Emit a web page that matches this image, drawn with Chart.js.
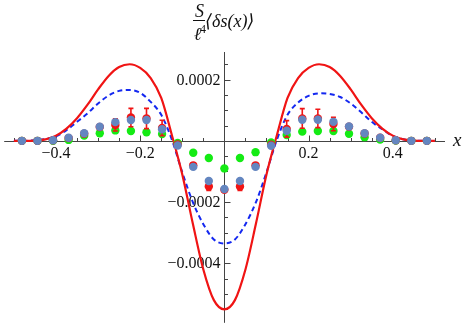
<!DOCTYPE html>
<html>
<head>
<meta charset="utf-8">
<script src="https://cdn.jsdelivr.net/npm/chart.js@4.4.0/dist/chart.umd.min.js"></script>
<style>
html, body { margin: 0; padding: 0; background: #fff; }
canvas { display: block; }
</style>
</head>
<body>
<canvas id="plot" width="463" height="327"></canvas>
<script>
// curves, sampled every 0.025
var curveX = [-0.5, -0.475, -0.45, -0.425, -0.4, -0.375, -0.35, -0.325, -0.3, -0.275, -0.25, -0.225, -0.2, -0.175, -0.15, -0.125, -0.1, -0.075, -0.05, -0.025, 0,
              0.025, 0.05, 0.075, 0.1, 0.125, 0.15, 0.175, 0.2, 0.225, 0.25, 0.275, 0.3, 0.325, 0.35, 0.375, 0.4, 0.425, 0.45, 0.475, 0.5];
var redCurve = [0, 0, 0.000001, 0.000005, 0.000017, 0.00004, 0.000074, 0.000118, 0.000168, 0.000212, 0.000241, 0.00025, 0.000238, 0.000205, 0.00014, 0.00002, -0.00011, -0.00027, -0.00042, -0.00052, -0.00055,
                -0.00052, -0.00042, -0.00027, -0.00011, 0.00002, 0.00014, 0.000205, 0.000238, 0.00025, 0.000241, 0.000212, 0.000168, 0.000118, 0.000074, 0.00004, 0.000017, 0.000005, 0.000001, 0, 0];
var blueCurve = [0, 0, 0.000002, 0.000006, 0.000015, 0.000035, 0.000062, 0.00009, 0.000122, 0.000148, 0.000163, 0.000166, 0.000157, 0.000127, 0.000085, 0.000005, -0.000103, -0.0002, -0.000272, -0.000322, -0.000335,
                 -0.000322, -0.000272, -0.0002, -0.000103, 0.000005, 0.000085, 0.000125, 0.000147, 0.000155, 0.000153, 0.000143, 0.000122, 0.000093, 0.000062, 0.000038, 0.000016, 0.000005, 0.000001, 0, 0];

// points
var pointX = [-0.481, -0.444, -0.407, -0.370, -0.333, -0.296, -0.259, -0.222, -0.185, -0.148, -0.111, -0.074, -0.037, 0,
              0.037, 0.074, 0.111, 0.148, 0.185, 0.222, 0.259, 0.296, 0.333, 0.370, 0.407, 0.444, 0.481];
var grayVals = [0, 0, 0.000002, 0.000010, 0.000025, 0.000046, 0.000061, 0.000068, 0.000068, 0.000038, -0.000015, -0.000085, -0.000131, -0.000157,
                -0.000131, -0.000085, -0.000016, 0.000033, 0.000069, 0.000069, 0.000062, 0.000047, 0.000025, 0.000010, 0.000002, 0, 0];
var greenVals = [0, 0, 0, 0.000003, 0.000017, 0.000025, 0.000034, 0.000032, 0.000028, 0.000022, -0.000007, -0.000039, -0.000056, -0.00009,
                 -0.000056, -0.000037, -0.000005, 0.000019, 0.00003, 0.000032, 0.000032, 0.000023, 0.000012, 0.000004, 0.000001, 0, 0];
var redVals = [0, 0, 0.000002, 0.000009, 0.000023, 0.000045, 0.000052, 0.000076, 0.000073, 0.000042, -0.000012, -0.00008, -0.000149, -0.00016,
               -0.000149, -0.00008, -0.000013, 0.000039, 0.000073, 0.000073, 0.000055, 0.000046, 0.000024, 0.000010, 0.000002, 0, 0];
var redErr = [0.000001, 0.000001, 0.000002, 0.000003, 0.000003, 0.000004, 0.00002, 0.00003, 0.000033, 0.000025, 0.000004, 0.000006, 0.000013, 0.000008,
              0.000013, 0.000006, 0.000004, 0.000027, 0.000032, 0.00003, 0.000022, 0.000004, 0.000003, 0.000003, 0.000002, 0.000001, 0.000001];

var xTicks = [-0.4, -0.2, 0.2, 0.4];
var xTickLabels = ['\u22120.4', '\u22120.2', '0.2', '0.4'];
var yTicks = [-0.0004, -0.0002, 0.0002];
var yTickLabels = ['\u22120.0004', '\u22120.0002', '0.0002'];

function toXY(xs, ys) {
    var out = [];
    for (var i = 0; i < xs.length; i++) out.push({ x: xs[i], y: ys[i] });
    return out;
}

var serif = '"Liberation Serif", "DejaVu Serif", serif';
var dotR = 4.2;

var axesPlugin = {
    id: 'axes',
    beforeDatasetsDraw: function (chart) {
        var ctx = chart.ctx, sx = chart.scales.x, sy = chart.scales.y, area = chart.chartArea;
        var x0 = Math.round(sx.getPixelForValue(0)) + 0.5;
        var y0 = Math.round(sy.getPixelForValue(0)) + 0.5;
        ctx.save();
        ctx.strokeStyle = '#444';
        ctx.lineWidth = 1;
        ctx.beginPath();
        ctx.moveTo(area.left, y0); ctx.lineTo(area.right, y0);
        ctx.moveTo(x0, area.top); ctx.lineTo(x0, area.bottom);
        // x ticks every 0.05, long ones on the labels
        for (var i = -10; i <= 10; i++) {
            if (i == 0) continue;
            var px = Math.round(sx.getPixelForValue(i * 0.05)) + 0.5;
            var len = (i % 4 == 0) ? 6 : 3.5;
            ctx.moveTo(px, y0); ctx.lineTo(px, y0 - len);
        }
        // y ticks every 0.00005
        for (var j = -11; j <= 5; j++) {
            if (j == 0) continue;
            var py = Math.round(sy.getPixelForValue(j * 0.00005)) + 0.5;
            var l2 = (j % 4 == 0) ? 6 : 3.5;
            ctx.moveTo(x0, py); ctx.lineTo(x0 + l2, py);
        }
        ctx.stroke();

        ctx.fillStyle = '#111';
        ctx.font = '16px ' + serif;
        ctx.textAlign = 'center';
        ctx.textBaseline = 'alphabetic';
        xTicks.forEach(function (v, k) {
            ctx.fillText(xTickLabels[k], sx.getPixelForValue(v), y0 + 16);
        });
        ctx.textAlign = 'right';
        yTicks.forEach(function (v, k) {
            ctx.fillText(yTickLabels[k], x0 - 4, sy.getPixelForValue(v) + 5);
        });
        ctx.restore();
    },
    afterDatasetDraw: function (chart, args) {
        if (chart.data.datasets[args.index].label !== 'red points') return;
        var ctx = chart.ctx, sx = chart.scales.x, sy = chart.scales.y;
        ctx.save();
        ctx.strokeStyle = 'rgb(240,20,20)';
        ctx.lineWidth = 1.6;
        ctx.beginPath();
        for (var i = 0; i < pointX.length; i++) {
            var px = sx.getPixelForValue(pointX[i]);
            var top = sy.getPixelForValue(redVals[i] + redErr[i]);
            var bot = sy.getPixelForValue(redVals[i] - redErr[i]);
            ctx.moveTo(px, top); ctx.lineTo(px, bot);
            ctx.moveTo(px - 2.5, top); ctx.lineTo(px + 2.5, top);
            ctx.moveTo(px - 2.5, bot); ctx.lineTo(px + 2.5, bot);
        }
        ctx.stroke();
        ctx.restore();
    },
    afterDraw: function (chart) {
        var ctx = chart.ctx, sy = chart.scales.y;
        var y0 = sy.getPixelForValue(0);
        ctx.save();
        ctx.fillStyle = '#111';
        ctx.textBaseline = 'alphabetic';
        ctx.font = 'italic 19px ' + serif;
        ctx.textAlign = 'left';
        ctx.fillText('x', 453, y0 + 5);
        // y label: S / l^4 <ds(x)>
        ctx.font = 'italic 18px ' + serif;
        ctx.textAlign = 'center';
        ctx.fillText('S', 199.5, 17);
        ctx.fillRect(193, 20, 12, 1);
        ctx.fillText('\u2113', 197.5, 40);
        ctx.font = '12px ' + serif;
        ctx.fillText('4', 203, 33);
        ctx.font = 'italic 18px ' + serif;
        ctx.textAlign = 'left';
        ctx.fillText('\u27E8\u03B4s(x)\u27E9', 205, 27);
        ctx.restore();
    }
};

var ctxp = document.getElementById('plot');
var plot = new Chart(ctxp, {
    type: 'scatter',
    data: {
        datasets: [
            { label: 'gray points', data: toXY(pointX, grayVals), backgroundColor: 'rgb(100,134,192)', pointRadius: dotR, borderWidth: 0 },
            { label: 'red points', data: toXY(pointX, redVals), backgroundColor: 'rgb(240,20,20)', pointRadius: dotR, borderWidth: 0 },
            { label: 'green points', data: toXY(pointX, greenVals), backgroundColor: 'rgb(20,235,20)', pointRadius: dotR, borderWidth: 0 },
            { label: 'red curve', type: 'line', data: toXY(curveX, redCurve), borderColor: 'rgb(240,20,20)', borderWidth: 2.2,
              pointRadius: 0, fill: false, cubicInterpolationMode: 'monotone' },
            { label: 'blue curve', type: 'line', data: toXY(curveX, blueCurve), borderColor: 'rgb(20,40,240)', borderWidth: 2,
              borderDash: [5, 3.5], pointRadius: 0, fill: false, cubicInterpolationMode: 'monotone' }
        ]
    },
    options: {
        responsive: false,
        animation: false,
        devicePixelRatio: 1,
        layout: { padding: { left: 0, right: 18, top: 52, bottom: 1 } },
        plugins: { legend: { display: false }, tooltip: { enabled: false } },
        scales: {
            x: { type: 'linear', min: -0.523, max: 0.524, display: false },
            y: { type: 'linear', min: -0.000594, max: 0.00029, display: false }
        }
    },
    plugins: [axesPlugin]
});
</script>
</body>
</html>
